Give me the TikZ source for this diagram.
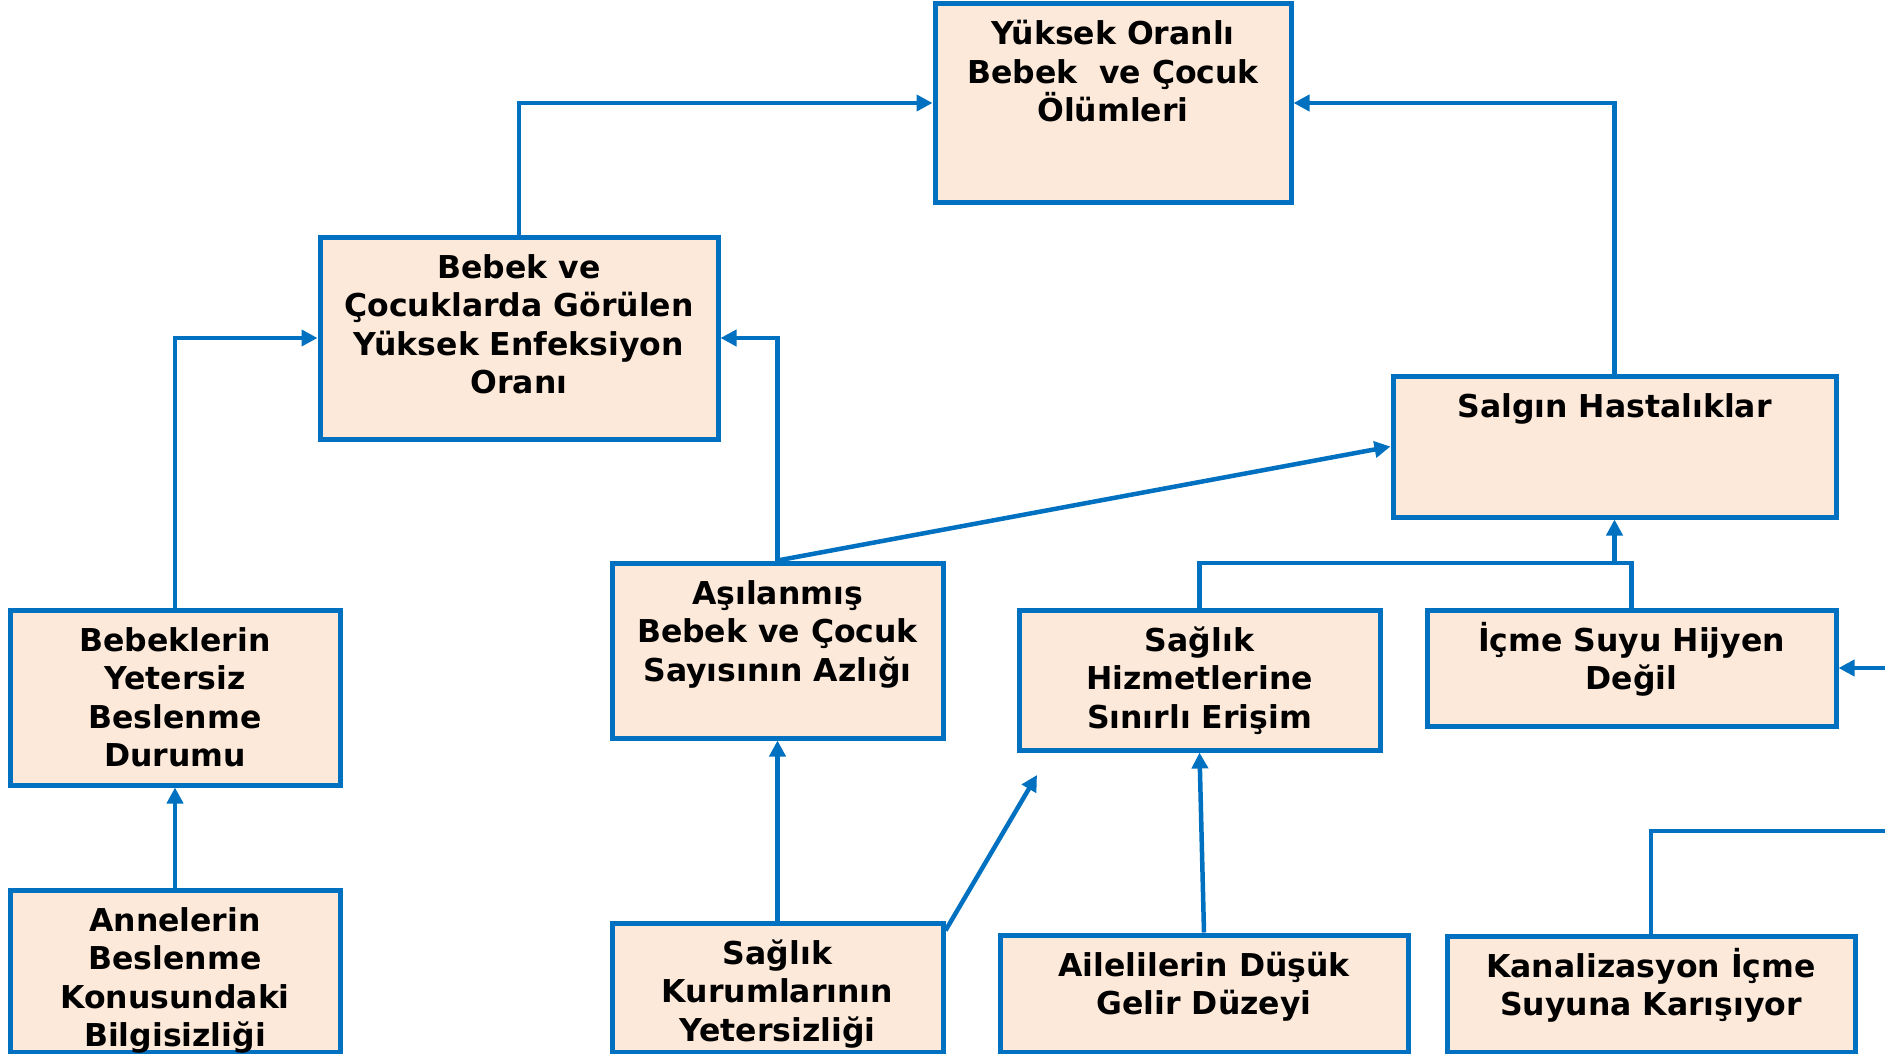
\documentclass[tikz,border=0pt]{standalone}
\usepackage{fontspec}
\setmainfont{DejaVu Sans}
\usetikzlibrary{arrows.meta,calc}
\definecolor{linkblue}{HTML}{0070C0}
\definecolor{boxfill}{HTML}{FDE9D9}
% fixed-size box content, text set from the top
\newcommand{\boxtext}[3]{\parbox[c][#2][t]{#1}{\centering\rule{0pt}{41pt}#3\par}}

\begin{document}
\begin{tikzpicture}[x=1pt,y=-1pt,
  box/.style={draw=linkblue, fill=boxfill, line width=5pt, inner sep=0pt,
              font=\fontsize{31.5}{38.5}\selectfont\bfseries},
  link/.style={draw=linkblue, line width=4.5pt},
  arr/.style={link, -{Triangle[length=16pt,width=16pt]}}]

\path[use as bounding box] (0,0) rectangle (1885,1054);
\clip (0,0) rectangle (1885,1054);

% boxes
\node[box] (yuk) at (1113,103)   {\boxtext{356pt}{198pt}{Yüksek Oranlı\\Bebek\ \ ve Çocuk\\Ölümleri}};
\node[box] (enf) at (519,338)    {\boxtext{398pt}{202pt}{Bebek ve\\Çocuklarda Görülen\\Yüksek Enfeksiyon\\Oranı}};
\node[box] (sal) at (1614.5,446.5) {\boxtext{443pt}{141pt}{Salgın Hastalıklar}};
\node[box] (bes) at (175,697.5)  {\boxtext{330pt}{175pt}{Bebeklerin\\Yetersiz\\Beslenme\\Durumu}};
\node[box] (asi) at (777.5,650.5) {\boxtext{331pt}{175pt}{Aşılanmış\\Bebek ve Çocuk\\Sayısının Azlığı}};
\node[box] (hiz) at (1199.5,680) {\boxtext{361pt}{140pt}{Sağlık\\Hizmetlerine\\Sınırlı Erişim}};
\node[box] (icm) at (1631.5,668) {\boxtext{409pt}{116pt}{İçme Suyu Hijyen\\Değil}};
\node[box] (ann) at (175,971)    {\boxtext{330pt}{162pt}{Annelerin\\Beslenme\\Konusundaki\\Bilgisizliği}};
\node[box] (kur) at (777.5,987.5) {\boxtext{331pt}{129pt}{Sağlık\\Kurumlarının\\Yetersizliği}};
\node[box] (ail) at (1204,993.5) {\boxtext{408pt}{117pt}{Ailelilerin Düşük\\Gelir Düzeyi}};
\node[box] (kan) at (1651,994)   {\boxtext{408pt}{116pt}{Kanalizasyon İçme\\Suyuna Karışıyor}};

% free ends and junctions
\coordinate (jn)  at (1614.5,563);
\coordinate (rin) at (1900,668);
\coordinate (rout) at (1900,831);
\coordinate (dtip) at (1037,775);
\coordinate (dstart) at ($(kur.north east)+(0,10)$);

% connectors
\draw[arr] (enf.north) |- (yuk.west);
\draw[arr] (sal.north) |- (yuk.east);
\draw[arr] (bes.north) |- (enf.west);
\draw[arr] (asi.north) |- (enf.east);
\draw[arr] (asi.north) -- (sal.west);
\draw[link] (hiz.north) |- (jn) -| (icm.north);
\draw[arr] (jn) -- (sal.south);
\draw[arr] (rin) -- (icm.east);
\draw[arr] (ann.north) -- (bes.south);
\draw[arr] (kur.north) -- (asi.south);
\draw[arr] (dstart) -- (dtip);
\draw[arr] (ail.north) -- (hiz.south);
\draw[link] (kan.north) |- (rout);

\end{tikzpicture}
\end{document}
